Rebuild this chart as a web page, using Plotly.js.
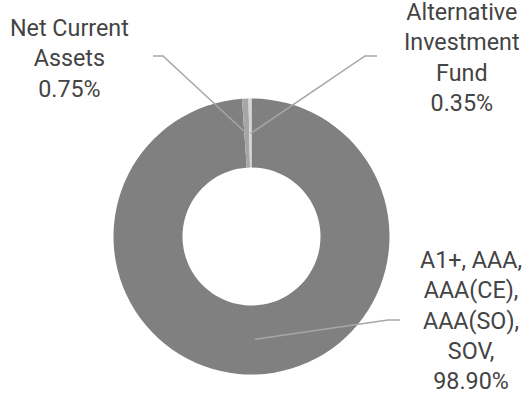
<!DOCTYPE html>
<html>
<head>
<meta charset="utf-8">
<script src="https://cdn.plot.ly/plotly-3.0.1.min.js"></script>
<style>html,body{margin:0;padding:0;background:#fff;}#chart{width:529px;height:394px;}</style>
</head>
<body>
<div id="chart"></div>
<script>
const categories = ["A1+, AAA,<br>AAA(CE),<br>AAA(SO),<br>SOV,", "Net Current<br>Assets", "Alternative<br>Investment<br>Fund"];
const values = [98.90, 0.75, 0.35];
const valueLabels = ["98.90%", "0.75%", "0.35%"];
const colors = ["#808080", "#a6a6a6", "#d6d6d6"];

const W = 529, H = 394;
const cx = 251.5, cy = 236.5, R = 138;
const px = x => x / W;
const py = y => 1 - y / H;

// label placement (layout) and leader elbows
const labelPos = [
  {x: 471, y: 320, elbow: [388, 320], end: [400, 320]},
  {x: 69, y: 59, elbow: [163, 56], end: [153, 56]},
  {x: 462, y: 57, elbow: [365, 56], end: [377, 56]}
];

const total = values.reduce((a, b) => a + b, 0);
let cum = 0;
const shapes = [];
const annotations = [];
values.forEach((v, i) => {
  const mid = (cum + v / 2) / total * 2 * Math.PI;
  cum += v;
  const r = R * 0.745;
  const ax = cx + r * Math.sin(mid);
  const ay = cy - r * Math.cos(mid);
  const L = labelPos[i];
  shapes.push({
    type: "path", xref: "paper", yref: "paper",
    path: `M ${px(ax)} ${py(ay)} L ${px(L.elbow[0])} ${py(L.elbow[1])} L ${px(L.end[0])} ${py(L.end[1])}`,
    line: {color: "#a6a6a6", width: 1.5}
  });
  annotations.push({
    xref: "paper", yref: "paper", x: px(L.x), y: py(L.y),
    xanchor: "center", yanchor: "middle", showarrow: false, align: "center",
    text: categories[i] + "<br>" + valueLabels[i],
    font: {family: "Roboto, sans-serif", size: 23.3, color: "#444444"}
  });
});

const trace = {
  type: "pie",
  values: values,
  labels: categories,
  sort: false,
  direction: "clockwise",
  rotation: 0,
  hole: 0.5,
  textinfo: "none",
  hoverinfo: "none",
  marker: {colors: colors, line: {width: 0}},
  domain: {x: [px(cx - R), px(cx + R)], y: [py(cy + R), py(cy - R)]},
  showlegend: false
};

Plotly.newPlot("chart", [trace], {
  width: W, height: H,
  margin: {l: 0, r: 0, t: 0, b: 0},
  paper_bgcolor: "#fff",
  showlegend: false,
  shapes: shapes,
  annotations: annotations
}, {staticPlot: true});
</script>
</body>
</html>
